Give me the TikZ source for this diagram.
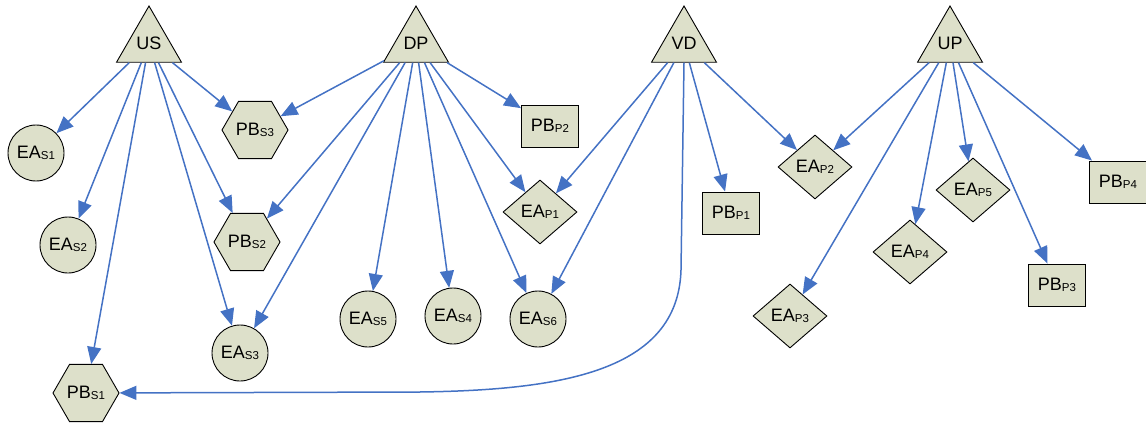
\documentclass[tikz,border=0pt]{standalone}
\usepackage{fontspec}
\setmainfont{Liberation Sans}
\usepackage{xcolor}
\usepackage{tikz}
\usetikzlibrary{positioning,arrows.meta,shapes.geometric}
\definecolor{EdgeBlue}{HTML}{4472C4}
\definecolor{NodeFill}{HTML}{DDE0CA}
\newcommand{\sidx}[1]{\raisebox{-1pt}{\fontsize{11.5}{12}\selectfont #1}}

\tikzset{
  base/.style={draw=black, fill=NodeFill, line width=0.9pt, inner sep=0pt,
    font=\fontsize{18}{21}\selectfont},
  actor/.style={base, regular polygon, regular polygon sides=3, minimum size=75pt},
  asset/.style={base, circle, minimum size=56pt},
  hexbox/.style={base, regular polygon, regular polygon sides=6, minimum size=66pt},
  decision/.style={base, diamond, minimum width=74pt, minimum height=64pt},
  outbox/.style={base, rectangle, minimum width=57pt, minimum height=42pt},
  link/.style={draw=EdgeBlue, line width=1.5pt, -{Triangle[length=17pt,width=14pt]}},
}

\begin{document}
\begin{tikzpicture}[x=1pt, y=-1pt]
  \useasboundingbox (0,0) rectangle (1146,425);

  % top row
  \node[actor] (US) at (149,43.5) {US};
  \node[actor] (DP) at (416,43.5) {DP};
  \node[actor] (VD) at (684,43.5) {VD};
  \node[actor] (UP) at (950,43.5) {UP};

  % circles
  \node[asset] (EAS1) at (36,153)  {EA\sidx{S1}};
  \node[asset] (EAS2) at (68,245)  {EA\sidx{S2}};
  \node[asset] (EAS3) at (240,353) {EA\sidx{S3}};
  \node[asset] (EAS5) at (368,319) {EA\sidx{S5}};
  \node[asset] (EAS4) at (453,316) {EA\sidx{S4}};
  \node[asset] (EAS6) at (538,319) {EA\sidx{S6}};

  % hexagons
  \node[hexbox] (PBS3) at (255,130) {PB\sidx{S3}};
  \node[hexbox] (PBS2) at (247,242) {PB\sidx{S2}};
  \node[hexbox] (PBS1) at (86,393)  {PB\sidx{S1}};

  % diamonds
  \node[decision] (EAP1) at (540,212) {EA\sidx{P1}};
  \node[decision] (EAP2) at (815,167) {EA\sidx{P2}};
  \node[decision] (EAP5) at (973,190) {EA\sidx{P5}};
  \node[decision] (EAP4) at (910,252) {EA\sidx{P4}};
  \node[decision] (EAP3) at (790,316) {EA\sidx{P3}};

  % boxes
  \node[outbox] (PBP2) at (550,126)  {PB\sidx{P2}};
  \node[outbox] (PBP1) at (731,213)  {PB\sidx{P1}};
  \node[outbox] (PBP4) at (1118,182) {PB\sidx{P4}};
  \node[outbox] (PBP3) at (1057,285) {PB\sidx{P3}};

  % links
  \foreach \t in {EAS1,EAS2,PBS1,EAS3,PBS2,PBS3}
    \draw[link] (US) -- (\t);
  \foreach \t in {PBS3,PBS2,EAS3,EAS5,EAS4,EAS6,EAP1,PBP2}
    \draw[link] (DP) -- (\t);
  \foreach \t in {EAP1,EAS6,PBP1,EAP2}
    \draw[link] (VD) -- (\t);
  \foreach \t in {EAP2,EAP3,EAP4,EAP5,PBP3,PBP4}
    \draw[link] (UP) -- (\t);
  \draw[link] (VD.south) -- (681,270) .. controls (678,372) and (560,390) .. (420,392) -- (PBS1);
\end{tikzpicture}
\end{document}
